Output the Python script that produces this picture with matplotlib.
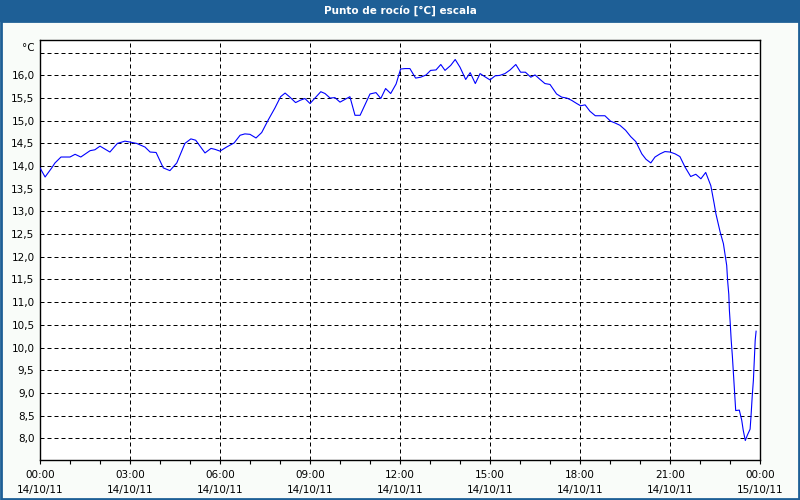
import matplotlib
matplotlib.use("Agg")
from matplotlib import pyplot as plt
from matplotlib.patches import Rectangle
from matplotlib.ticker import FixedLocator, MultipleLocator

# horas desde 00:00 del 14/10/11 y punto de rocio en °C
horas = [0.0, 0.17, 0.39, 0.5, 0.7, 1.0, 1.17, 1.36, 1.67, 1.83, 2.0, 2.33, 2.58, 2.83,
         3.0, 3.22, 3.5, 3.67, 3.87, 4.11, 4.33, 4.56, 4.83, 5.03, 5.19, 5.5, 5.7, 5.83,
         6.0, 6.22, 6.47, 6.67, 6.83, 7.0, 7.2, 7.39, 7.61, 7.83, 8.02, 8.17, 8.33, 8.52,
         8.67, 8.83, 9.0, 9.36, 9.5, 9.67, 9.83, 10.0, 10.33, 10.5, 10.67, 10.83, 11.0,
         11.2, 11.36, 11.52, 11.69, 11.87, 12.02, 12.17, 12.33, 12.52, 12.69, 12.87, 13.02,
         13.2, 13.36, 13.5, 13.69, 13.84, 14.0, 14.19, 14.34, 14.51, 14.67, 14.83, 15.0,
         15.17, 15.33, 15.5, 15.67, 15.86, 16.02, 16.18, 16.36, 16.5, 16.67, 16.83, 17.0,
         17.22, 17.39, 17.56, 17.72, 17.89, 18.02, 18.17, 18.33, 18.51, 18.83, 19.02, 19.17,
         19.33, 19.52, 19.69, 19.86, 20.06, 20.2, 20.36, 20.5, 20.67, 20.83, 21.0, 21.17,
         21.33, 21.5, 21.69, 21.86, 22.03, 22.19, 22.36, 22.47, 22.53, 22.67, 22.78, 22.83,
         22.89, 22.92, 22.96, 22.98, 23.01, 23.04, 23.08, 23.11, 23.14, 23.19, 23.31, 23.39,
         23.44, 23.51, 23.58, 23.67, 23.7, 23.74, 23.78, 23.81, 23.84, 23.87]
rocio = [13.96, 13.76, 13.96, 14.07, 14.2, 14.2, 14.26, 14.2, 14.34, 14.36, 14.44, 14.31, 14.5, 14.55,
         14.53, 14.5, 14.42, 14.31, 14.3, 13.96, 13.9, 14.07, 14.5, 14.6, 14.57, 14.29, 14.39, 14.37,
         14.33, 14.42, 14.51, 14.68, 14.71, 14.7, 14.62, 14.74, 15.02, 15.28, 15.53, 15.61, 15.52, 15.4,
         15.45, 15.49, 15.38, 15.64, 15.6, 15.5, 15.51, 15.41, 15.53, 15.12, 15.12, 15.35, 15.59,
         15.62, 15.49, 15.71, 15.6, 15.81, 16.14, 16.15, 16.15, 15.94, 15.96, 16.01, 16.11,
         16.12, 16.24, 16.11, 16.22, 16.35, 16.18, 15.91, 16.06, 15.82, 16.04, 15.97, 15.9,
         15.99, 16.0, 16.04, 16.12, 16.24, 16.07, 16.07, 15.96, 16.01, 15.91, 15.82, 15.8,
         15.59, 15.52, 15.5, 15.45, 15.38, 15.33, 15.35, 15.21, 15.11, 15.11, 14.99, 14.95,
         14.9, 14.79, 14.65, 14.54, 14.27, 14.15, 14.07, 14.2, 14.27, 14.32, 14.31, 14.27,
         14.21, 13.98, 13.77, 13.82, 13.72, 13.86, 13.57, 13.18, 12.95, 12.55, 12.29, 12.07,
         11.81, 11.48, 11.17, 10.82, 10.51, 10.16, 9.8, 9.47, 9.1, 8.61, 8.62, 8.4,
         8.18, 7.95, 8.07, 8.2, 8.48, 8.92, 9.28, 9.72, 10.16, 10.36]

horas_ticks = [0, 3, 6, 9, 12, 15, 18, 21, 24]
etiquetas_x = ["00:00\n14/10/11", "03:00\n14/10/11", "06:00\n14/10/11", "09:00\n14/10/11",
               "12:00\n14/10/11", "15:00\n14/10/11", "18:00\n14/10/11", "21:00\n14/10/11",
               "00:00\n15/10/11"]
valores_y = [8.0, 8.5, 9.0, 9.5, 10.0, 10.5, 11.0, 11.5, 12.0, 12.5, 13.0, 13.5,
             14.0, 14.5, 15.0, 15.5, 16.0, 16.5]

azul_marco = "#1e5f96"
fuente = "DejaVu Sans"

fig = plt.figure(figsize=(8, 5), dpi=100, facecolor="#f9fcf9")

# barra de titulo
fig.patches.append(Rectangle((0, 1 - 22 / 500), 1, 22 / 500, transform=fig.transFigure,
                             facecolor=azul_marco, edgecolor="none", zorder=0))
fig.text(0.5, 1 - 11 / 500, "Punto de rocío [°C] escala", color="white", fontsize=7.5,
         fontweight="bold", family=fuente, ha="center", va="center")
# borde del marco
fig.patches.append(Rectangle((0.0015, 0.003), 0.997, 1 - 22 / 500, transform=fig.transFigure,
                             facecolor="none", edgecolor=azul_marco, linewidth=2, zorder=0))

ax = fig.add_axes([40 / 800, 40 / 500, 720 / 800, 420 / 500])
ax.set_facecolor("white")
ax.plot(horas, rocio, color="#0000ff", linewidth=0.8, zorder=3)

ax.set_xlim(0, 24)
ax.set_ylim(7.52, 16.78)

ax.xaxis.set_major_locator(FixedLocator(horas_ticks))
ax.set_xticklabels(etiquetas_x, fontsize=7.5, family=fuente, linespacing=1.6)
ax.xaxis.set_minor_locator(MultipleLocator(1))
ax.tick_params(axis="x", which="both", direction="out", length=3, width=0.8, pad=4)

ax.yaxis.set_major_locator(FixedLocator(valores_y))
ax.set_yticklabels([("%.1f" % v).replace(".", ",") if v < 16.4 else "" for v in valores_y],
                   fontsize=7.5, family=fuente)
ax.tick_params(axis="y", length=0, pad=4)
ax.text(-0.008, 16.6, "°C", transform=ax.get_yaxis_transform(), ha="right", va="center",
        fontsize=7.5, family=fuente)

ax.grid(True, which="major", color="black", linewidth=0.72, linestyle=(0, (4, 3)))
for lado in ax.spines.values():
    lado.set_linewidth(1.0)
    lado.set_color("black")

fig.savefig("out.png", dpi=100, facecolor=fig.get_facecolor())
